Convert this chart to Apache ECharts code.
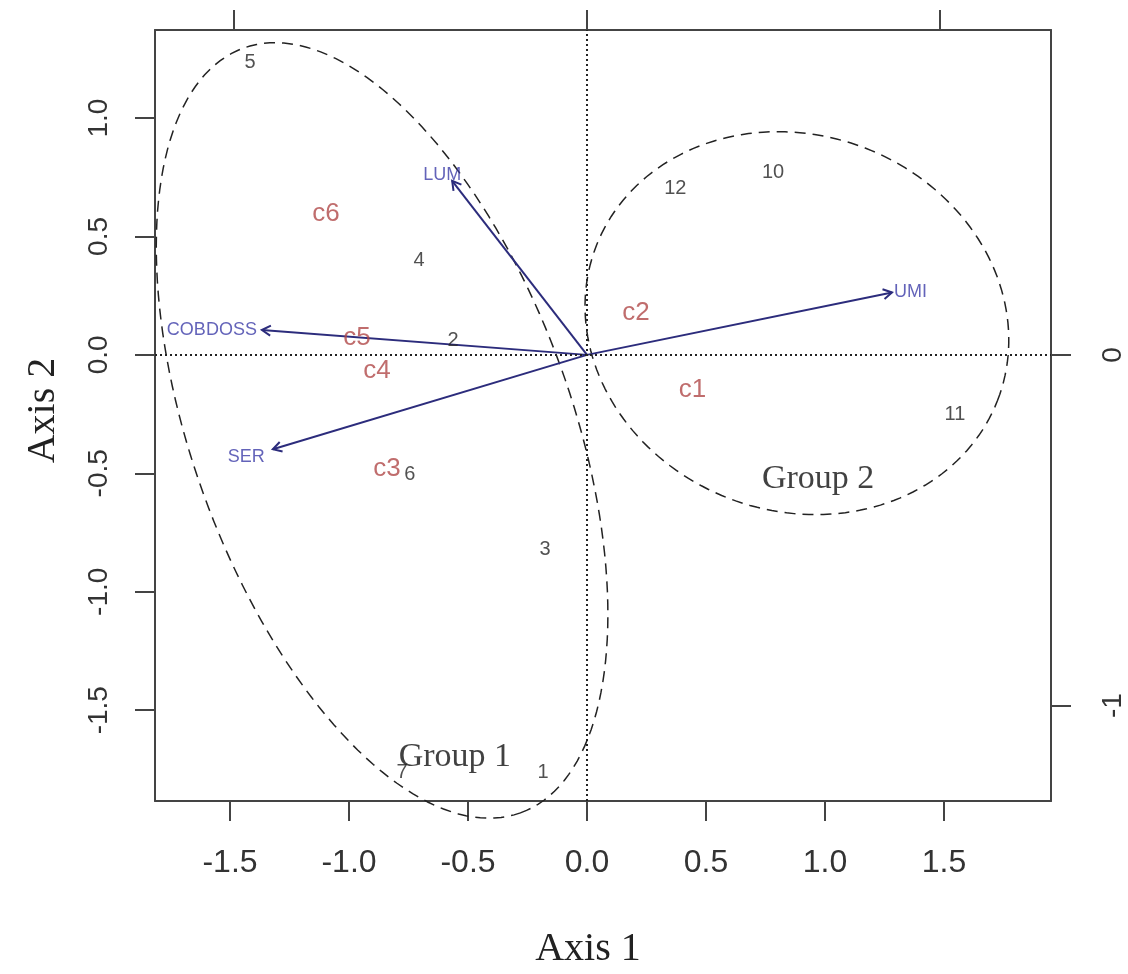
<!DOCTYPE html>
<html>
<head>
<meta charset="utf-8">
<title>Axis 1 / Axis 2</title>
<script src="https://cdn.jsdelivr.net/npm/echarts@6/dist/echarts.min.js"></script>
<style>
  html, body { margin: 0; padding: 0; background: #fff; }
  #main { width: 1128px; height: 974px; }
</style>
</head>
<body>
<div id="main"></div>
<script>
// sites (black numbers), primary axes
let siteNames = ['1', '2', '3', '4', '5', '6', '7', '10', '11', '12'];
let siteX = [-0.185, -0.563, -0.176, -0.706, -1.416, -0.744, -0.777, 0.782, 1.546, 0.371];
let siteY = [-1.761, 0.059, -0.822, 0.398, 1.233, -0.507, -1.765, 0.771, -0.252, 0.704];

// classes (red labels), primary axes
let classNames = ['c1', 'c2', 'c3', 'c4', 'c5', 'c6'];
let classX = [0.443, 0.206, -0.840, -0.882, -0.966, -1.097];
let classY = [-0.147, 0.176, -0.482, -0.067, 0.071, 0.595];

// variables (arrows), secondary axes (top / right)
let varNames = ['LUM', 'UMI', 'COBDOSS', 'SER'];
let varX = [-0.382, 0.864, -0.921, -0.890];
let varY = [0.496, 0.178, 0.071, -0.269];

// groups: ellipse centre, semi axes, angle in degrees
let groupNames = ['Group 1', 'Group 2'];
let groupCx = [-0.861, 0.882];
let groupCy = [-0.319, 0.134];
let groupA = [1.716, 0.904];
let groupB = [0.797, 0.793];
let groupAngle = [-70.2, -21.2];
let groupLabelX = [-0.555, 0.971];
let groupLabelY = [-1.698, -0.524];

// ticks
let xTicks = [-1.5, -1.0, -0.5, 0, 0.5, 1.0, 1.5];
let yTicks = [-1.5, -1.0, -0.5, 0, 0.5, 1.0];
let x2Ticks = [-1, 0, 1];
let y2Ticks = [-1, 0];

const sans = 'Liberation Sans, Arial, sans-serif';
const serif = 'Liberation Serif, Times New Roman, serif';
const frame = '#444';
const arrowColor = '#2c2c7c';

// where each arrow label sits next to the tip
let varLabelPos = {
  LUM: { position: 'top', distance: 0, offset: [-10, 3] },
  UMI: { position: 'right', distance: 2, offset: [0, 0] },
  COBDOSS: { position: 'left', distance: 5, offset: [0, 0] },
  SER: { position: 'left', distance: 8, offset: [0, 8] }
};

const chart = echarts.init(document.getElementById('main'), null, { renderer: 'canvas' });

function axisCommon(ticks, extra) {
  return Object.assign({
    type: 'value',
    scale: false,
    splitLine: { show: false },
    axisLine: { show: true, onZero: false, lineStyle: { color: frame, width: 2 } },
    axisTick: { show: true, inside: false, length: 20, customValues: ticks, lineStyle: { color: frame, width: 2 } }
  }, extra);
}

let option = {
  animation: false,
  backgroundColor: '#fff',
  textStyle: { fontFamily: sans },
  grid: { left: 155, top: 30, width: 896, height: 776, containLabel: false },
  xAxis: [
    axisCommon(xTicks, {
      position: 'bottom', min: -1.8151, max: 1.9496,
      axisLabel: {
        customValues: xTicks, margin: 46, fontSize: 32, color: '#333', fontFamily: sans,
        formatter: (v) => v.toFixed(1)
      },
      name: 'Axis 1', nameLocation: 'middle', nameGap: 128,
      nameTextStyle: { fontFamily: serif, fontSize: 40, color: '#222', padding: [0, 30, 0, 0] }
    }),
    axisCommon(x2Ticks, {
      position: 'top', min: -1.2238, max: 1.3144,
      axisLabel: { show: false }
    })
  ],
  yAxis: [
    axisCommon(yTicks, {
      position: 'left', min: -1.8834, max: 1.3716,
      axisLabel: {
        customValues: yTicks, rotate: 90, margin: 42, fontSize: 28, color: '#333', fontFamily: sans,
        formatter: (v) => v.toFixed(1)
      },
      name: 'Axis 2', nameLocation: 'middle', nameGap: 92, nameRotate: 90,
      nameTextStyle: { fontFamily: serif, fontSize: 40, color: '#222', padding: [0, 0, 0, 10] }
    }),
    axisCommon(y2Ticks, {
      position: 'right', min: -1.272, max: 0.9263,
      axisLabel: {
        customValues: y2Ticks, rotate: 90, margin: 48, fontSize: 28, color: '#333', fontFamily: sans,
        formatter: (v) => String(v)
      }
    })
  ],
  series: [
    {
      // dashed group ellipses
      type: 'custom',
      xAxisIndex: 0,
      yAxisIndex: 0,
      silent: true,
      clip: false,
      encode: { x: 0, y: 1 },
      data: groupCx.map((cx, i) => [cx, groupCy[i], groupA[i], groupB[i], groupAngle[i]]),
      renderItem: function (params, api) {
        let cx = api.value(0), cy = api.value(1);
        let a = api.value(2), b = api.value(3);
        let t = api.value(4) * Math.PI / 180;
        let pts = [];
        for (let k = 0; k <= 180; k++) {
          let s = k / 180 * Math.PI * 2;
          let ex = a * Math.cos(s), ey = b * Math.sin(s);
          pts.push(api.coord([cx + ex * Math.cos(t) - ey * Math.sin(t), cy + ex * Math.sin(t) + ey * Math.cos(t)]));
        }
        return {
          type: 'polygon',
          shape: { points: pts },
          style: { fill: 'none', stroke: '#222', lineWidth: 1.5, lineDash: [11, 7] }
        };
      },
      markLine: {
        silent: true,
        symbol: 'none',
        label: { show: false },
        lineStyle: { type: [2, 3], color: '#222', width: 2 },
        data: [{ xAxis: 0 }, { yAxis: 0 }]
      }
    },
    {
      // variable arrows
      type: 'custom',
      xAxisIndex: 1,
      yAxisIndex: 1,
      silent: true,
      encode: { x: 0, y: 1 },
      data: varX.map((x, i) => [x, varY[i]]),
      renderItem: function (params, api) {
        let p0 = api.coord([0, 0]);
        let p1 = api.coord([api.value(0), api.value(1)]);
        let ang = Math.atan2(p1[1] - p0[1], p1[0] - p0[0]);
        let len = 10, spread = Math.PI / 6;
        let h1 = [p1[0] - len * Math.cos(ang - spread), p1[1] - len * Math.sin(ang - spread)];
        let h2 = [p1[0] - len * Math.cos(ang + spread), p1[1] - len * Math.sin(ang + spread)];
        return {
          type: 'group',
          children: [
            { type: 'line', shape: { x1: p0[0], y1: p0[1], x2: p1[0], y2: p1[1] }, style: { stroke: arrowColor, lineWidth: 2 } },
            { type: 'polyline', shape: { points: [h1, p1, h2] }, style: { stroke: arrowColor, lineWidth: 2, fill: 'none' } }
          ]
        };
      }
    },
    {
      // variable names
      type: 'scatter',
      xAxisIndex: 1,
      yAxisIndex: 1,
      silent: true,
      symbolSize: 0,
      data: varNames.map((n, i) => ({
        name: n,
        value: [varX[i], varY[i]],
        label: varLabelPos[n]
      })),
      label: { show: true, formatter: '{b}', fontSize: 18, color: '#3c3ca8', fontFamily: sans }
    },
    {
      // sites
      type: 'scatter',
      silent: true,
      symbolSize: 0,
      data: siteNames.map((n, i) => ({ name: n, value: [siteX[i], siteY[i]] })),
      label: { show: true, position: 'inside', formatter: '{b}', fontSize: 20, color: '#262626', fontFamily: sans }
    },
    {
      // classes
      type: 'scatter',
      silent: true,
      symbolSize: 0,
      data: classNames.map((n, i) => ({ name: n, value: [classX[i], classY[i]] })),
      label: { show: true, position: 'inside', formatter: '{b}', fontSize: 26, color: '#b04848', fontFamily: sans }
    },
    {
      // group names
      type: 'scatter',
      silent: true,
      symbolSize: 0,
      data: groupNames.map((n, i) => ({ name: n, value: [groupLabelX[i], groupLabelY[i]] })),
      label: { show: true, position: 'inside', formatter: '{b}', fontSize: 34, color: '#111', fontFamily: serif }
    }
  ]
};

chart.setOption(option);
</script>
</body>
</html>
